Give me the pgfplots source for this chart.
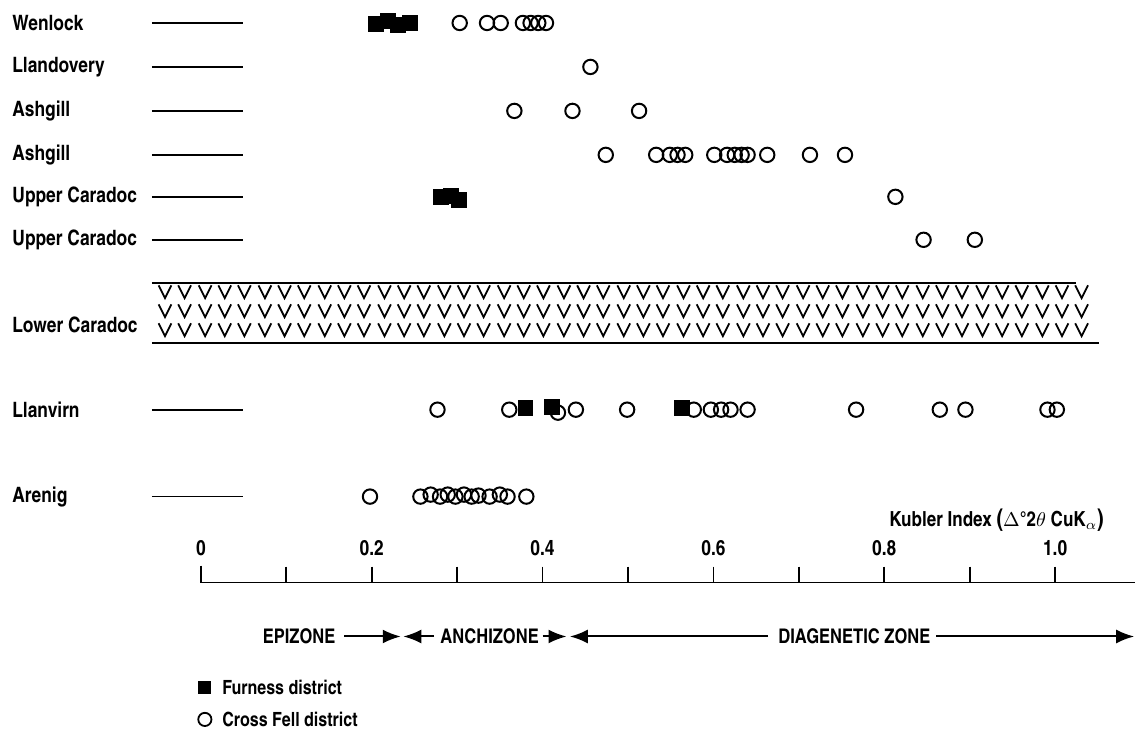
\documentclass[border=0pt]{standalone}
\usepackage{pgfplots}
\pgfplotsset{compat=1.18}
\usepackage{fontspec}
\setmainfont{texgyreheroscn-bold.otf}
\usetikzlibrary{arrows.meta}
\pgfdeclareplotmark{vvv}{%
  \pgfpathmoveto{\pgfpoint{-3.2pt}{12.7pt}}\pgfpathlineto{\pgfpoint{0pt}{6.3pt}}\pgfpathlineto{\pgfpoint{3.2pt}{12.7pt}}%
  \pgfpathmoveto{\pgfpoint{-3.2pt}{3.2pt}}\pgfpathlineto{\pgfpoint{0pt}{-3.2pt}}\pgfpathlineto{\pgfpoint{3.2pt}{3.2pt}}%
  \pgfpathmoveto{\pgfpoint{-3.2pt}{-6.3pt}}\pgfpathlineto{\pgfpoint{0pt}{-12.7pt}}\pgfpathlineto{\pgfpoint{3.2pt}{-6.3pt}}%
  \pgfusepathqstroke}
\tikzset{lbl/.style={anchor=west, inner sep=0pt, font=\fontsize{10.6}{12}\selectfont}}
\pgfplotsset{
  circ/.style={only marks, mark=o, mark size=3.6pt, mark options={line width=1pt, black}},
  sq/.style={only marks, mark=square*, mark size=3.7pt, mark options={black}},
  arr/.style={black, line width=1pt, -{Latex[length=9pt,width=7pt]}},
}
\begin{document}
\begin{tikzpicture}
\begin{axis}[
  width=568pt, height=366.5pt, scale only axis,
  xmin=-0.2351, xmax=1.0936, ymin=-733, ymax=0,
  hide axis, clip=false, unbounded coords=jump,
]
\path (rel axis cs:0,0) rectangle (rel axis cs:1,1);
% row labels
\node[lbl] at (axis cs:-0.2211,-23) {Wenlock};
\node[lbl] at (axis cs:-0.2211,-67) {Llandovery};
\node[lbl] at (axis cs:-0.2211,-111) {Ashgill};
\node[lbl] at (axis cs:-0.2211,-155) {Ashgill};
\node[lbl] at (axis cs:-0.2211,-197) {Upper Caradoc};
\node[lbl] at (axis cs:-0.2211,-240) {Upper Caradoc};
\node[lbl] at (axis cs:-0.2211,-325) {Lower Caradoc};
\node[lbl] at (axis cs:-0.2211,-410) {Llanvirn};
\node[lbl] at (axis cs:-0.2211,-497) {Arenig};
% short row lines
\addplot[black, line width=0.9pt] coordinates {(-0.0573,-23) (0.0491,-23) (nan,nan)
 (-0.0573,-67) (0.0491,-67) (nan,nan)
 (-0.0573,-111) (0.0491,-111) (nan,nan)
 (-0.0573,-155) (0.0491,-155) (nan,nan)
 (-0.0573,-197) (0.0491,-197) (nan,nan)
 (-0.0573,-240) (0.0491,-240) (nan,nan)
 (-0.0573,-410) (0.0491,-410) (nan,nan)
 (-0.0573,-497) (0.0491,-497)};
% Lower Caradoc band
\addplot[black, line width=1pt] coordinates {(-0.0573,-283) (1.0246,-283)};
\addplot[black, line width=1pt] coordinates {(-0.0573,-343) (1.0515,-343)};
\addplot[only marks, mark=vvv, mark options={line width=0.9pt, black}] coordinates {
(-0.042,-311) (-0.019,-311) (0.005,-311) (0.028,-311) (0.051,-311) (0.075,-311)
(0.098,-311) (0.121,-311) (0.145,-311) (0.168,-311) (0.191,-311) (0.215,-311)
(0.238,-311) (0.261,-311) (0.285,-311) (0.308,-311) (0.331,-311) (0.355,-311)
(0.378,-311) (0.401,-311) (0.425,-311) (0.448,-311) (0.471,-311) (0.495,-311)
(0.518,-311) (0.541,-311) (0.565,-311) (0.588,-311) (0.611,-311) (0.635,-311)
(0.658,-311) (0.681,-311) (0.705,-311) (0.728,-311) (0.751,-311) (0.775,-311)
(0.798,-311) (0.821,-311) (0.845,-311) (0.868,-311) (0.891,-311) (0.915,-311)
(0.938,-311) (0.961,-311) (0.985,-311) (1.008,-311) (1.031,-311)};
% Furness district (filled squares)
\addplot[sq] coordinates {
(0.205,-24) (0.219,-21) (0.231,-25) (0.245,-23)
(0.281,-197) (0.293,-196) (0.302,-200)
(0.380,-408) (0.411,-407) (0.563,-408)};
% Cross Fell district (open circles)
\addplot[circ] coordinates {
(0.303,-23) (0.335,-23) (0.351,-23) (0.377,-23) (0.386,-23) (0.395,-23) (0.404,-23)
(0.456,-67)
(0.367,-111) (0.435,-111) (0.513,-111)
(0.474,-155) (0.533,-155) (0.549,-155) (0.558,-155) (0.567,-155) (0.601,-155)
(0.616,-155) (0.625,-155) (0.633,-155) (0.640,-155) (0.663,-155) (0.713,-155) (0.754,-155)
(0.813,-197)
(0.846,-240) (0.906,-240)
(0.277,-410) (0.361,-410) (0.418,-413) (0.439,-410) (0.499,-410) (0.577,-410)
(0.597,-410) (0.609,-410) (0.620,-410) (0.640,-410) (0.767,-410) (0.865,-410)
(0.895,-410) (0.991,-410) (1.002,-410)
(0.198,-497) (0.257,-497) (0.269,-495) (0.280,-497) (0.289,-495) (0.298,-497)
(0.308,-495) (0.317,-497) (0.325,-496) (0.338,-497) (0.350,-495) (0.359,-497) (0.381,-497)};
% bottom scale
\addplot[black, line width=0.9pt] coordinates {(0,-566) (0,-583) (1.0936,-583)};
\addplot[black, line width=0.9pt] coordinates {
(0.1,-567) (0.1,-583) (nan,nan) (0.2,-567) (0.2,-583) (nan,nan)
(0.3,-567) (0.3,-583) (nan,nan) (0.4,-567) (0.4,-583) (nan,nan)
(0.5,-567) (0.5,-583) (nan,nan) (0.6,-567) (0.6,-583) (nan,nan)
(0.7,-567) (0.7,-583) (nan,nan) (0.8,-567) (0.8,-583) (nan,nan)
(0.9,-567) (0.9,-583) (nan,nan) (1.0,-567) (1.0,-583)};
\node[font=\fontsize{10.6}{12}\selectfont] at (axis cs:0,-549) {0};
\node[font=\fontsize{10.6}{12}\selectfont] at (axis cs:0.2,-549) {0.2};
\node[font=\fontsize{10.6}{12}\selectfont] at (axis cs:0.4,-549) {0.4};
\node[font=\fontsize{10.6}{12}\selectfont] at (axis cs:0.6,-549) {0.6};
\node[font=\fontsize{10.6}{12}\selectfont] at (axis cs:0.8,-549) {0.8};
\node[font=\fontsize{10.6}{12}\selectfont] at (axis cs:1.0,-549) {1.0};
\node[anchor=east, inner sep=0pt, font=\fontsize{10.4}{12}\selectfont] at (axis cs:1.0573,-521) {Kubler Index {\large(}$\Delta$°2$\theta$ CuK$_\alpha${\large)}};
% zones
\node[font=\fontsize{10.1}{12}\selectfont] at (axis cs:0.115,-637) {EPIZONE};
\node[font=\fontsize{10.1}{12}\selectfont] at (axis cs:0.338,-637) {ANCHIZONE};
\node[font=\fontsize{10.1}{12}\selectfont] at (axis cs:0.765,-637) {DIAGENETIC ZONE};
\addplot[arr] coordinates {(0.168,-637) (0.234,-637)};
\addplot[arr] coordinates {(0.273,-637) (0.237,-637)};
\addplot[arr] coordinates {(0.400,-637) (0.428,-637)};
\addplot[arr] coordinates {(0.664,-637) (0.432,-637)};
\addplot[arr] coordinates {(0.861,-637) (1.0925,-637)};
% legend
\addplot[only marks, mark=square*, mark size=3pt, mark options={black}] coordinates {(0.0047,-688)};
\addplot[only marks, mark=o, mark size=3.3pt, mark options={line width=0.9pt, black}] coordinates {(0.0047,-720)};
\node[anchor=west, inner sep=0pt, font=\fontsize{9.8}{11}\selectfont] at (axis cs:0.0246,-688) {Furness district};
\node[anchor=west, inner sep=0pt, font=\fontsize{9.8}{11}\selectfont] at (axis cs:0.0246,-720) {Cross Fell district};
\end{axis}
\end{tikzpicture}
\end{document}
